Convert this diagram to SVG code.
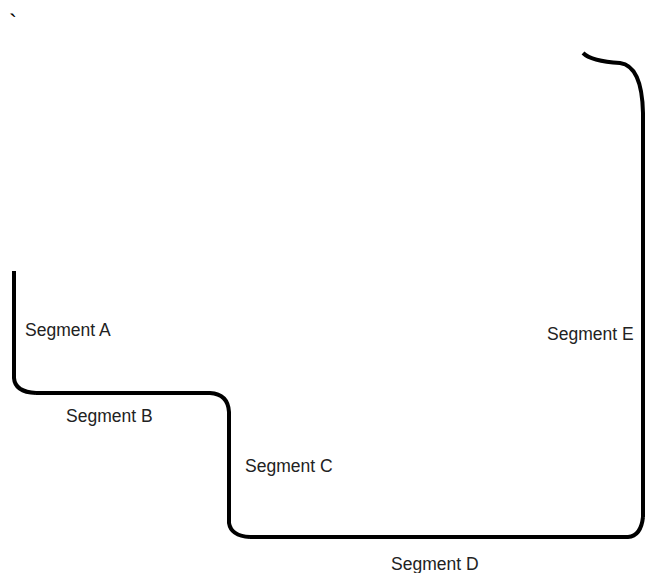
<svg xmlns="http://www.w3.org/2000/svg" width="646" height="573" viewBox="0 0 646 573">
<style>
.seg{fill:none;stroke:#000;stroke-width:4;stroke-linecap:butt;stroke-linejoin:round}
.lbl{font-family:"Liberation Sans",Arial,sans-serif;font-size:17.5px;fill:#222}
</style>
<rect width="646" height="573" fill="#fff"/>
<text x="9" y="31" font-family="Liberation Sans, Arial, sans-serif" font-size="24" fill="#000">`</text>
<g id="connectors">
<path id="segA" class="seg" d="M14,271 L14,378 Q15,392 36,393"/>
<path id="segB" class="seg" d="M36,393 L210,393 Q228,394 229,412"/>
<path id="segC" class="seg" d="M229,412 L229,523 Q231,536 250,537"/>
<path id="segD" class="seg" d="M250,537 L628,537 Q641,536 643,517"/>
<path id="segE" class="seg" d="M643,517 L643,113 Q642,66 620,63 C604,62 590,60 583,53"/>
</g>
<g id="labels">
<text class="lbl" x="25" y="336">Segment A</text>
<text class="lbl" x="66" y="422">Segment B</text>
<text class="lbl" x="245" y="472">Segment C</text>
<text class="lbl" x="391" y="570">Segment D</text>
<text class="lbl" x="547" y="340">Segment E</text>
</g>
</svg>
